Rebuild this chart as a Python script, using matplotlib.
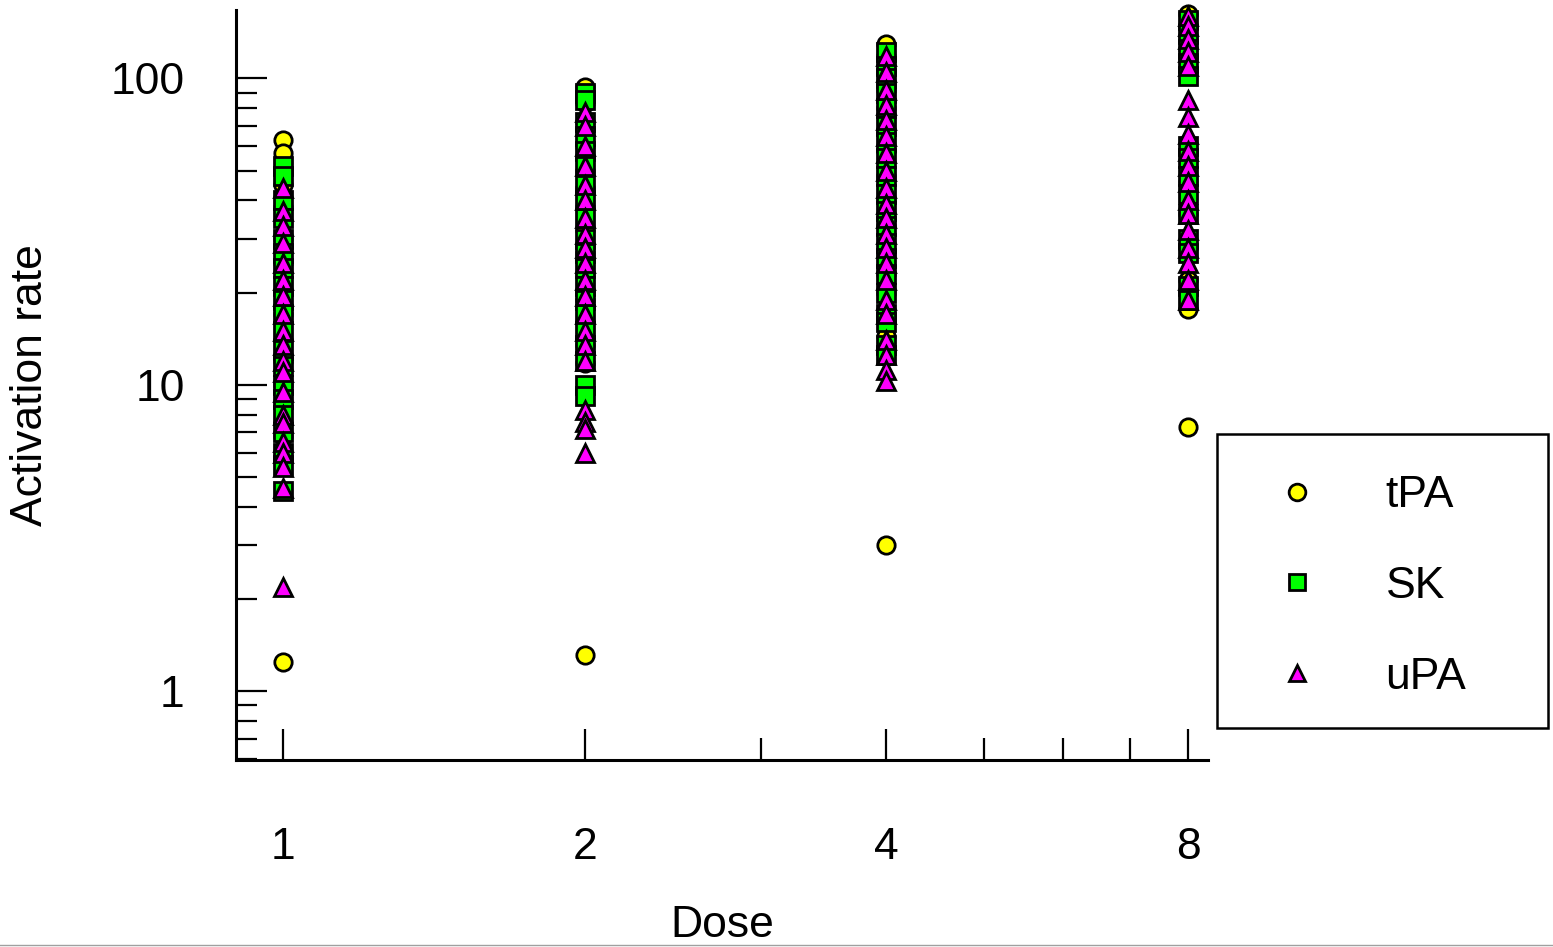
import matplotlib
matplotlib.use('Agg')
import matplotlib.pyplot as plt
import matplotlib.ticker as mticker
from matplotlib.lines import Line2D
from matplotlib.patches import Rectangle

plt.rcParams['font.family'] = ['Liberation Sans', 'DejaVu Sans']

doses = [1, 2, 4, 8]
dose_labels = ['1', '2', '4', '8']

# activation rates, one list per dose
tpa = {
    1: [63, 57, 45, 38, 30, 25, 20, 17, 14, 12, 10, 8.5, 7.5, 6.8, 1.25],
    2: [94, 83, 72, 60, 50, 44, 38, 32, 27, 23, 19, 16, 13.5, 11.8, 1.32],
    4: [130, 118, 105, 92, 80, 68, 58, 48, 40, 33, 27, 23, 20, 14.5, 3.0],
    8: [162, 150, 138, 125, 58, 46, 36, 28, 22, 17.7, 7.3],
}
sk = {
    1: [52, 48, 40, 35, 30, 27, 24, 21, 19, 17, 15, 13, 11.5, 10, 9, 8, 7, 6, 5.5, 4.5],
    2: [90, 85, 72, 65, 58, 52, 45, 40, 35, 30, 27, 24, 21, 19, 17, 15, 13.5, 12, 10, 9.2],
    4: [122, 110, 100, 90, 80, 70, 62, 55, 48, 42, 37, 33, 29, 26, 23, 20, 17, 16, 13.5, 12.5],
    8: [155, 140, 125, 112, 102, 60, 55, 48, 42, 36, 30, 27, 21, 19],
}
upa = {
    1: [44, 37, 33, 29, 25, 22, 19.5, 17, 15, 13.5, 12, 11, 9.5, 8, 7.5, 6.5, 6, 5.4, 4.6, 2.2],
    2: [78, 70, 60, 52, 45, 40, 35, 31, 28, 25, 22, 19.5, 17, 15, 13.5, 12, 8.3, 7.6, 7.2, 6.0],
    4: [118, 105, 92, 82, 73, 65, 57, 50, 44, 39, 35, 31, 28, 25, 22, 19, 17, 14, 12.5, 11.2, 10.3],
    8: [160, 148, 135, 122, 110, 85, 75, 66, 58, 52, 46, 40, 36, 32, 28, 25, 22, 19],
}

series = [('tPA', tpa, 'o', '#ffff00'),
          ('SK', sk, 's', '#00ff00'),
          ('uPA', upa, '^', '#ff00ff')]

fig = plt.figure(figsize=(15.53, 9.47), dpi=100)
ax = fig.add_axes([236/1553, 1-760/947, (1208-236)/1553, 750/947])

handles = []
for name, vals, mk, col in series:
    for d in doses:
        ax.plot([d]*len(vals[d]), vals[d], linestyle='none', marker=mk,
                ms=12.5, mfc=col, mec='black', mew=2.0, clip_on=False)
    handles.append(Line2D([], [], linestyle='none', marker=mk, ms=12,
                          mfc=col, mec='black', mew=2.0, label=name))

ax.set_xscale('log', base=2)
ax.set_yscale('log')
ax.set_xlim(0.898, 8.37)
ax.set_ylim(0.5976, 167.3)

ax.xaxis.set_major_locator(mticker.FixedLocator(doses))
ax.xaxis.set_major_formatter(mticker.FixedFormatter(dose_labels))
ax.xaxis.set_minor_locator(mticker.FixedLocator([3, 5, 6, 7]))
ax.xaxis.set_minor_formatter(mticker.NullFormatter())

ax.yaxis.set_major_locator(mticker.FixedLocator([1, 10, 100]))
ax.yaxis.set_major_formatter(mticker.FixedFormatter(['1', '10', '100']))
ax.yaxis.set_minor_locator(mticker.LogLocator(base=10, subs=range(2, 10)))
ax.yaxis.set_minor_formatter(mticker.NullFormatter())

for s in ['top', 'right']:
    ax.spines[s].set_visible(False)
for s in ['left', 'bottom']:
    ax.spines[s].set_linewidth(2.2)

ax.tick_params(axis='y', which='major', direction='in', length=22, width=1.6,
               labelsize=32, pad=37)
ax.tick_params(axis='y', which='minor', direction='in', length=15, width=1.6)
ax.tick_params(axis='x', which='major', direction='in', length=22, width=1.6,
               labelsize=32, pad=48)
ax.tick_params(axis='x', which='minor', direction='in', length=16, width=1.6)

ax.set_xlabel('Dose', fontsize=32)
ax.xaxis.set_label_coords(0.5, -0.193)
ax.set_ylabel('Activation rate', fontsize=32)
ax.yaxis.set_label_coords(-0.19, 0.5)

# legend outside the axes, with a square frame
fig.patches.append(Rectangle((1217/1553, 1-728/947), 331/1553, 294/947,
                             transform=fig.transFigure, fill=False,
                             edgecolor='black', linewidth=1.8))
fig.legend(handles=handles, loc='upper left', frameon=False,
           bbox_to_anchor=(1233/1553, 1-453/947), fontsize=32,
           handlelength=1.9, handletextpad=1.03, labelspacing=1.12,
           borderpad=0.0)

fig.add_artist(Line2D([0, 1], [2.5/947, 2.5/947], color='#a0a0a0', lw=1))

fig.savefig('out.png', dpi=100)
